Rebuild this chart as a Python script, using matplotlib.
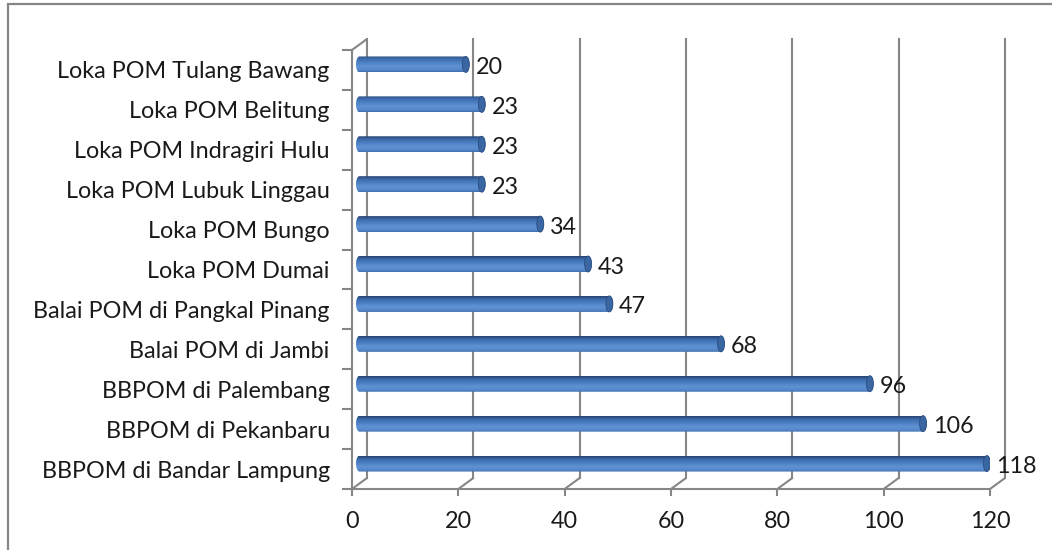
import matplotlib
matplotlib.use("Agg")
import matplotlib.pyplot as plt
import numpy as np
from matplotlib.path import Path
from matplotlib.patches import PathPatch, Ellipse, Rectangle, ConnectionPatch
from matplotlib.transforms import offset_copy
from matplotlib.colors import LinearSegmentedColormap

categories = ["BBPOM di Bandar Lampung", "BBPOM di Pekanbaru", "BBPOM di Palembang",
              "Balai POM di Jambi", "Balai POM di Pangkal Pinang", "Loka POM Dumai",
              "Loka POM Bungo", "Loka POM Lubuk Linggau", "Loka POM Indragiri Hulu",
              "Loka POM Belitung", "Loka POM Tulang Bawang"]
values = [118, 106, 96, 68, 47, 43, 34, 23, 23, 23, 20]
xticks = [0, 20, 40, 60, 80, 100, 120]

plt.rcParams['font.family'] = ['Lato', 'DejaVu Sans']
FS = 16.8
TXT = '#1a1a1a'

W, H = 1052, 550
fig = plt.figure(figsize=(W / 100, H / 100), dpi=100)
fig.patch.set_facecolor('white')

# outer chart border
fig.add_artist(Rectangle((8 / W, -0.1), 1.2, (H - 4) / H + 0.1, transform=fig.transFigure,
                         fill=False, edgecolor='#868686', linewidth=1.6))

L, R, T, B = 352, 990, 50, 489
ax = fig.add_axes([L / W, 1 - B / H, (R - L) / W, (B - T) / H])
n = len(categories)
ax.set_xlim(0, 120)
ax.set_ylim(-0.5, n - 0.5)
for s in ['top', 'right']:
    ax.spines[s].set_visible(False)
for s in ['left', 'bottom']:
    ax.spines[s].set_color('#868686')
    ax.spines[s].set_linewidth(1.5)

gcol = '#868686'
DX, DY = 15, 11  # depth offset in pixels
back = offset_copy(ax.transData, fig=fig, x=DX, y=DY, units='dots')
mid = offset_copy(ax.transData, fig=fig, x=DX / 2, y=DY / 2, units='dots')

# back wall gridlines and floor diagonals
for xv in xticks:
    ax.plot([xv, xv], [-0.5, n - 0.5], color=gcol, lw=1.5, transform=back, clip_on=False, zorder=1)
    cp = ConnectionPatch((xv, -0.5), (xv, -0.5), coordsA=ax.transData, coordsB=back,
                         color=gcol, lw=1.5, zorder=1)
    fig.add_artist(cp)
# top-left diagonal of side wall
fig.add_artist(ConnectionPatch((0, n - 0.5), (0, n - 0.5), coordsA=ax.transData, coordsB=back,
                               color=gcol, lw=1.5))

# ticks
ax.set_xticks(xticks)
ax.set_xticklabels([str(v) for v in xticks], fontsize=FS, color=TXT)
ax.tick_params(axis='x', length=5, width=1.5, color=gcol, pad=11)
ax.set_yticks(np.arange(-0.5, n, 1.0))
ax.set_yticklabels([])
ax.tick_params(axis='y', which='major', length=7, width=1.5, color=gcol)
ax.set_yticks(np.arange(n), minor=True)
ax.set_yticklabels(categories, minor=True, fontsize=FS, color=TXT)
ax.tick_params(axis='y', which='minor', length=0, pad=16)

# cylinder bars
cmap = LinearSegmentedColormap.from_list('cyl', [
    (0.0, '#3d6cab'), (0.12, '#5689cc'), (0.35, '#5f92d3'), (0.6, '#4a7dc0'),
    (0.82, '#3b68a6'), (1.0, '#27426f')])
grad = np.linspace(0, 1, 64).reshape(-1, 1)
pxx = (R - L) / 120.0
pxy = (B - T) / n
hh = 8 / pxy
rx = 3.5 / pxx
t = np.linspace(-np.pi / 2, np.pi / 2, 30)
for i, v in enumerate(values):
    yc = i
    rxs = v + rx * np.cos(t[::-1])
    rys = yc + hh * np.sin(t[::-1])
    lxs = 0 - rx * np.cos(t)
    lys = yc + hh * np.sin(t)
    verts = np.column_stack([np.r_[rxs, lxs, rxs[0]], np.r_[rys, lys, rys[0]]])
    path = Path(verts, closed=True)
    patch = PathPatch(path, facecolor='none', edgecolor='none', transform=mid)
    ax.add_patch(patch)
    im = ax.imshow(grad, cmap=cmap, aspect='auto', extent=[-rx, v + rx, yc + hh, yc - hh],
                   transform=mid, zorder=3, interpolation='bilinear')
    im.set_clip_path(patch)
    ax.add_patch(Ellipse((v, yc), 2 * rx, 2 * hh, facecolor='#3a66a2', edgecolor='#2a4d82',
                         lw=0.6, transform=mid, zorder=4))
    ax.annotate(str(v), (v, yc), xycoords=mid, xytext=(7.0, -2.2), textcoords='offset points',
                ha='left', va='center', fontsize=FS, color=TXT, zorder=5)

ax.set_xlim(0, 120)
ax.set_ylim(-0.5, n - 0.5)
ax.patch.set_alpha(0)
fig.savefig('out.png', dpi=100)
